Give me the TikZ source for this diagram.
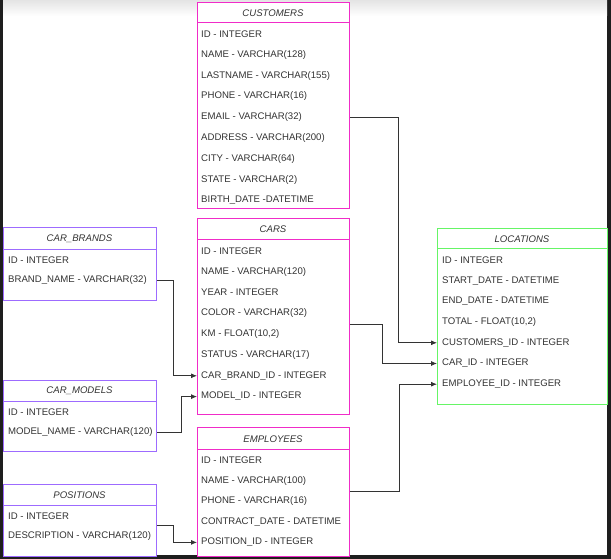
\documentclass[tikz,border=0pt]{standalone}
\usepackage{fontspec}
\setmainfont{Liberation Sans}
\usetikzlibrary{arrows.meta,positioning}

\definecolor{tblpink}{HTML}{F02CC8}
\definecolor{tblviolet}{HTML}{9D6BFF}
\definecolor{tblgreen}{HTML}{66F566}
\definecolor{txtgray}{HTML}{333333}
\definecolor{scrframe}{HTML}{1E1E1E}

\begin{document}
\begin{tikzpicture}[x=1pt, y=-1pt, >={Latex[length=6pt,width=5pt]},
  tbl/.style={draw, line width=1pt, anchor=north west, inner sep=0pt, fill=white},
  head/.style={font=\fontsize{9.6}{11}\selectfont\itshape, text=txtgray},
  row/.style={anchor=west, inner sep=0pt, font=\fontsize{9.6}{11}\selectfont, text=txtgray},
  fk/.style={->, draw=txtgray, line width=0.8pt}]

% screenshot frame
\fill[scrframe] (0,0) rectangle (611,559);
\fill[white] (3,1) rectangle (607,555);
\shade[top color=gray!20, bottom color=white] (3,1) rectangle (607,16);

% CUSTOMERS
\node[tbl, draw=tblpink, minimum width=152pt, minimum height=206pt] (customers) at (197,2) {};
\draw[tblpink, line width=1pt] (customers.west |- 0,23) -- (customers.east |- 0,23);
\node[head] (customers-h) at (273,13) {CUSTOMERS};
\foreach \t [count=\i] in {ID - INTEGER, NAME - VARCHAR(128), LASTNAME - VARCHAR(155),
    PHONE - VARCHAR(16), EMAIL - VARCHAR(32), ADDRESS - VARCHAR(200), CITY - VARCHAR(64),
    STATE - VARCHAR(2), BIRTH\_DATE -DATETIME}
  \node[row] (cus-\i) at (201,{34+20.8*(\i-1)}) {\t};

% CARS
\node[tbl, draw=tblpink, minimum width=152pt, minimum height=196pt] (cars) at (197,218) {};
\draw[tblpink, line width=1pt] (cars.west |- 0,239) -- (cars.east |- 0,239);
\node[head] (cars-h) at (273,229.5) {CARS};
\foreach \t [count=\i] in {ID - INTEGER, NAME - VARCHAR(120), YEAR - INTEGER,
    COLOR - VARCHAR(32), {KM - FLOAT(10,2)}, STATUS - VARCHAR(17),
    CAR\_BRAND\_ID - INTEGER, MODEL\_ID - INTEGER}
  \node[row] (car-\i) at (201,{251+20.8*(\i-1)}) {\t};

% EMPLOYEES
\node[tbl, draw=tblpink, minimum width=152pt, minimum height=128.5pt] (employees) at (197,427) {};
\draw[tblpink, line width=1pt] (employees.west |- 0,449) -- (employees.east |- 0,449);
\node[head] (employees-h) at (273,439) {EMPLOYEES};
\foreach \t [count=\i] in {ID - INTEGER, NAME - VARCHAR(100), PHONE - VARCHAR(16),
    CONTRACT\_DATE - DATETIME, POSITION\_ID - INTEGER}
  \node[row] (emp-\i) at (201,{460+20.6*(\i-1)}) {\t};

% CAR_BRANDS
\node[tbl, draw=tblviolet, minimum width=153pt, minimum height=73pt] (brands) at (3,227) {};
\draw[tblviolet, line width=1pt] (brands.west |- 0,249) -- (brands.east |- 0,249);
\node[head] (brands-h) at (79.5,239) {CAR\_BRANDS};
\foreach \t [count=\i] in {ID - INTEGER, BRAND\_NAME - VARCHAR(32)}
  \node[row] (cb-\i) at (8,{260+20.5*(\i-1)}) {\t};

% CAR_MODELS
\node[tbl, draw=tblviolet, minimum width=153pt, minimum height=71pt] (models) at (3,380) {};
\draw[tblviolet, line width=1pt] (models.west |- 0,401) -- (models.east |- 0,401);
\node[head] (models-h) at (79.5,391) {CAR\_MODELS};
\foreach \t [count=\i] in {ID - INTEGER, MODEL\_NAME - VARCHAR(120)}
  \node[row] (cm-\i) at (8,{412+20.3*(\i-1)}) {\t};

% POSITIONS
\node[tbl, draw=tblviolet, minimum width=153pt, minimum height=71.5pt] (positions) at (3,484) {};
\draw[tblviolet, line width=1pt] (positions.west |- 0,505) -- (positions.east |- 0,505);
\node[head] (positions-h) at (79.5,495) {POSITIONS};
\foreach \t [count=\i] in {ID - INTEGER, DESCRIPTION - VARCHAR(120)}
  \node[row] (pos-\i) at (8,{516+20.3*(\i-1)}) {\t};

% LOCATIONS
\node[tbl, draw=tblgreen, minimum width=169.5pt, minimum height=176pt] (locations) at (437,228) {};
\draw[tblgreen, line width=1pt] (locations.west |- 0,248) -- (locations.east |- 0,248);
\node[head] (locations-h) at (522,239) {LOCATIONS};
\foreach \t [count=\i] in {ID - INTEGER, START\_DATE - DATETIME, END\_DATE - DATETIME,
    {TOTAL - FLOAT(10,2)}, CUSTOMERS\_ID - INTEGER, CAR\_ID - INTEGER, EMPLOYEE\_ID - INTEGER}
  \node[row] (loc-\i) at (442,{260+20.7*(\i-1)}) {\t};

% foreign keys
\draw[fk] (customers.east |- cus-5) -- ++(48,0) |- (locations.west |- loc-5);
\draw[fk] ([yshift=-8pt]cars.east) -- ++(32,0) |- (locations.west |- loc-6);
\draw[fk] (employees.east) -- ++(49,0) |- (locations.west |- loc-7);
\draw[fk] (brands.east |- cb-2) -- ++(16,0) |- (cars.west |- car-7);
\draw[fk] (models.east |- cm-2) -- ++(24,0) |- (cars.west |- car-8);
\draw[fk] ([yshift=-5pt]positions.east) -- ++(16,0) |- (employees.west |- emp-5);
\end{tikzpicture}
\end{document}
